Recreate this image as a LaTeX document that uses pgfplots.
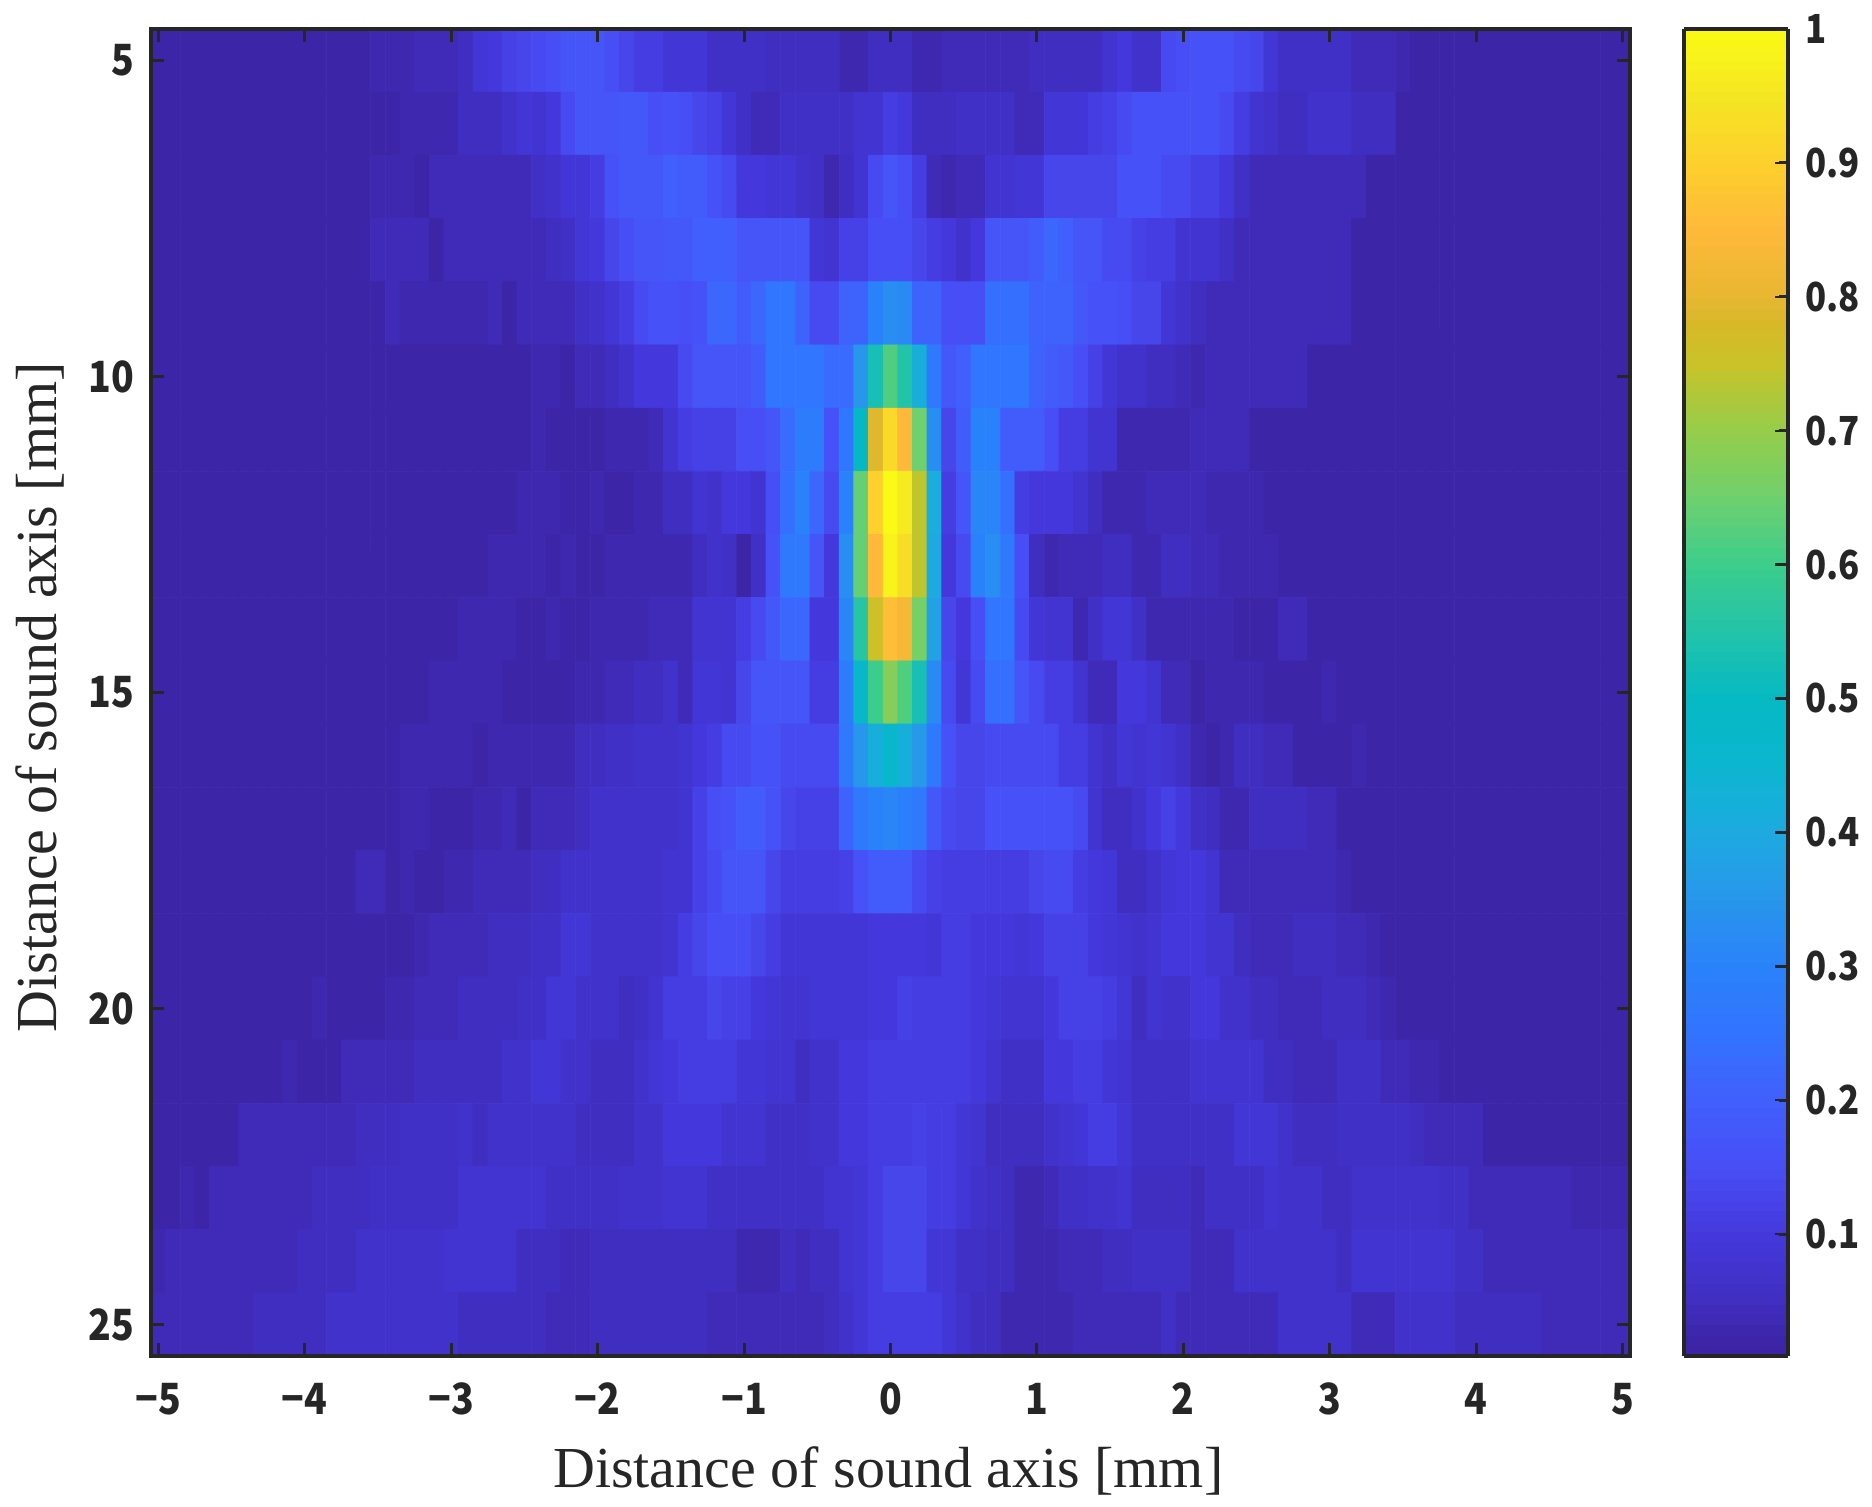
\documentclass[border=0pt]{standalone}
\usepackage{fontspec}
\usepackage{pgfplots}
\pgfplotsset{compat=1.18}
\setmainfont{Liberation Serif}
\newfontfamily\tickfont[FakeStretch=0.87]{Noto Sans CJK JP}
\definecolor{axc}{RGB}{38,38,38}
\begin{document}
\begin{tikzpicture}
\path[use as bounding box] (0pt,0pt) rectangle (936pt,753pt);
\begin{axis}[
  at={(75.5pt,75pt)}, anchor=south west,
  scale only axis, width=739.5pt, height=663.5pt,
  xmin=-5.05, xmax=5.05, ymin=4.5, ymax=25.5, y dir=reverse,
  axis on top, axis line style={axc,line width=1.7pt},
  tick style={axc,line width=1.5pt},
  tick align=inside, major tick length=6.5pt,
  xtick={-5,-4,-3,-2,-1,0,1,2,3,4,5},
  xticklabels={−5,−4,−3,−2,−1,0,1,2,3,4,5},
  ytick={5,10,15,20,25}, yticklabels={5,10,15,20,25},
  ticklabel style={font=\tickfont\bfseries\fontsize{21.5}{22}\selectfont, text=axc},
  xticklabel style={yshift=-10pt},
  yticklabel style={xshift=-5pt},
  xlabel={Distance of sound axis [mm]}, ylabel={Distance of sound axis [mm]},
  label style={font=\fontsize{29}{29}\selectfont, text=axc},
  xlabel style={at={(axis description cs:0.4985,-0.0865)},anchor=center},
  ylabel style={at={(axis description cs:-0.075,0.4965)},anchor=center},
  point meta min=0.009, point meta max=1,
  colormap={prl}{rgb255(1pt)=(60,35,165); rgb255(2pt)=(60,37,165); rgb255(5pt)=(64,46,192); rgb255(10pt)=(68,56,220); rgb255(15pt)=(72,78,245); rgb255(20pt)=(65,95,252); rgb255(25pt)=(50,115,255); rgb255(30pt)=(42,130,250); rgb255(35pt)=(40,150,235); rgb255(40pt)=(30,170,225); rgb255(45pt)=(12,182,208); rgb255(50pt)=(5,185,195); rgb255(55pt)=(35,195,170); rgb255(60pt)=(60,205,140); rgb255(65pt)=(110,208,110); rgb255(70pt)=(150,205,75); rgb255(75pt)=(200,195,40); rgb255(78pt)=(215,185,40); rgb255(80pt)=(232,183,50); rgb255(85pt)=(254,185,58); rgb255(90pt)=(253,208,45); rgb255(95pt)=(245,230,35); rgb255(100pt)=(250,251,20)},
  colorbar sampled,
  colorbar style={
    samples=129,
    at={(1.0365,1)}, anchor=north west, width=52pt,
    axis on top,
    axis line style={axc,line width=1.7pt},
    ytick={0.1,0.2,0.3,0.4,0.5,0.6,0.7,0.8,0.9,1},
    yticklabels={0.1,0.2,0.3,0.4,0.5,0.6,0.7,0.8,0.9,1},
    ytick pos=right, yticklabel pos=right,
    yticklabel style={font=\tickfont\bfseries\fontsize{20}{20}\selectfont, text=axc, anchor=west, xshift=5pt},
  },
]
\addplot[matrix plot*, mesh/cols=101, point meta=explicit] table[row sep=\\, header=false,
  x expr={mod(\coordindex,101)*0.1-5}, y expr={floor(\coordindex/101)+5}, meta expr={\thisrowno{0}/100}] {
2\\2\\2\\2\\2\\2\\2\\2\\2\\2\\ 2\\2\\2\\2\\2\\3\\3\\3\\4\\4\\ 4\\5\\9\\10\\12\\13\\14\\15\\17\\17\\ 17\\15\\13\\11\\11\\9\\9\\9\\6\\6\\ 6\\6\\5\\5\\5\\5\\5\\3\\3\\5\\ 5\\ 5\\3\\3\\4\\4\\4\\4\\4\\4\\5\\ 5\\5\\5\\5\\8\\10\\7\\7\\14\\15\\ 16\\16\\16\\14\\13\\9\\6\\6\\6\\6\\ 6\\4\\4\\4\\3\\2\\2\\2\\2\\2\\ 2\\2\\2\\2\\2\\2\\2\\2\\2\\2\\
2\\2\\2\\2\\2\\2\\2\\2\\2\\2\\ 2\\2\\2\\2\\2\\2\\2\\3\\3\\3\\ 3\\5\\5\\5\\7\\9\\8\\10\\14\\17\\ 17\\17\\18\\18\\15\\16\\15\\13\\12\\9\\ 6\\4\\4\\6\\6\\6\\6\\6\\8\\8\\ 11\\ 10\\5\\5\\5\\6\\6\\6\\6\\4\\4\\ 9\\9\\9\\11\\12\\14\\16\\16\\16\\16\\ 16\\16\\14\\11\\8\\7\\5\\5\\7\\7\\ 7\\5\\5\\5\\2\\2\\2\\2\\2\\2\\ 2\\2\\2\\2\\2\\2\\2\\2\\2\\2\\
2\\2\\2\\2\\2\\2\\2\\2\\2\\2\\ 2\\2\\2\\2\\2\\3\\3\\3\\2\\4\\ 4\\4\\4\\4\\4\\4\\6\\7\\9\\9\\ 11\\16\\18\\18\\18\\20\\19\\19\\16\\14\\ 10\\10\\9\\9\\7\\6\\3\\5\\8\\14\\ 17\\ 15\\11\\4\\3\\4\\4\\8\\8\\9\\9\\ 13\\13\\13\\13\\13\\16\\16\\16\\14\\14\\ 12\\12\\10\\6\\4\\4\\4\\4\\4\\4\\ 4\\4\\2\\2\\2\\2\\2\\2\\2\\2\\ 2\\2\\2\\2\\2\\2\\2\\2\\2\\2\\
2\\2\\2\\2\\2\\2\\2\\2\\2\\2\\ 2\\2\\2\\2\\2\\4\\4\\4\\4\\2\\ 4\\4\\4\\4\\4\\4\\4\\5\\6\\9\\ 10\\13\\15\\17\\17\\18\\18\\20\\20\\20\\ 17\\17\\17\\17\\17\\9\\8\\12\\12\\15\\ 15\\ 15\\13\\11\\10\\7\\10\\17\\17\\17\\19\\ 22\\20\\17\\17\\14\\14\\12\\11\\11\\8\\ 8\\8\\6\\4\\4\\4\\4\\4\\4\\4\\ 4\\2\\2\\2\\2\\2\\2\\2\\2\\2\\ 2\\2\\2\\2\\2\\2\\2\\2\\2\\2\\
2\\2\\2\\2\\2\\2\\2\\2\\2\\2\\ 2\\2\\2\\2\\2\\2\\4\\3\\3\\3\\ 3\\3\\3\\4\\2\\4\\4\\4\\4\\6\\ 7\\9\\11\\14\\16\\16\\15\\16\\22\\22\\ 19\\22\\26\\26\\21\\14\\14\\21\\21\\30\\ 33\\ 32\\21\\21\\15\\15\\15\\24\\24\\24\\21\\ 21\\21\\18\\16\\16\\15\\13\\13\\9\\7\\ 5\\4\\4\\4\\4\\4\\4\\4\\4\\4\\ 4\\2\\2\\2\\2\\2\\2\\2\\2\\2\\ 2\\2\\2\\2\\2\\2\\2\\2\\2\\2\\
2\\2\\2\\2\\2\\2\\2\\2\\2\\2\\ 2\\2\\2\\2\\2\\2\\2\\2\\2\\2\\ 2\\2\\2\\2\\2\\2\\3\\3\\2\\4\\ 4\\5\\7\\10\\10\\10\\14\\17\\17\\17\\ 17\\19\\26\\26\\26\\26\\23\\23\\35\\53\\ 62\\ 55\\42\\27\\18\\20\\26\\26\\26\\26\\21\\ 19\\18\\15\\12\\9\\7\\7\\5\\5\\4\\ 3\\4\\4\\4\\4\\4\\4\\4\\2\\2\\ 2\\2\\2\\2\\2\\2\\2\\2\\2\\2\\ 2\\2\\2\\2\\2\\2\\2\\2\\2\\2\\
2\\2\\2\\2\\2\\2\\2\\2\\2\\2\\ 2\\2\\2\\2\\2\\2\\2\\2\\2\\2\\ 2\\2\\2\\2\\2\\2\\3\\2\\2\\2\\ 2\\3\\3\\3\\4\\8\\11\\12\\12\\12\\ 15\\15\\17\\23\\28\\28\\16\\26\\49\\79\\ 92\\ 85\\65\\33\\13\\19\\30\\30\\19\\19\\19\\ 15\\11\\11\\8\\8\\3\\3\\3\\3\\3\\ 4\\4\\4\\4\\2\\2\\2\\2\\2\\2\\ 2\\2\\2\\2\\2\\2\\2\\2\\2\\2\\ 2\\2\\2\\2\\2\\2\\2\\2\\2\\2\\
2\\2\\2\\2\\2\\2\\2\\2\\2\\2\\ 2\\2\\2\\2\\2\\2\\2\\2\\2\\2\\ 2\\2\\2\\2\\2\\3\\3\\3\\2\\2\\ 3\\2\\2\\3\\3\\5\\5\\8\\7\\10\\ 10\\8\\15\\24\\30\\22\\14\\30\\64\\90\\ 100\\ 96\\74\\41\\11\\17\\31\\31\\24\\11\\10\\ 10\\10\\8\\5\\3\\3\\3\\4\\4\\4\\ 4\\3\\3\\3\\3\\2\\2\\2\\2\\2\\ 2\\2\\2\\2\\2\\2\\2\\2\\2\\2\\ 2\\2\\2\\2\\2\\2\\2\\2\\2\\2\\
2\\2\\2\\2\\2\\2\\2\\2\\2\\2\\ 2\\2\\2\\2\\2\\2\\2\\2\\2\\2\\ 2\\2\\2\\3\\3\\3\\3\\2\\3\\2\\ 2\\3\\3\\3\\3\\3\\3\\5\\7\\6\\ 2\\6\\16\\27\\27\\17\\10\\33\\64\\85\\ 98\\ 93\\74\\40\\10\\14\\30\\33\\27\\15\\5\\ 3\\4\\4\\4\\5\\5\\3\\3\\5\\5\\ 4\\4\\3\\3\\3\\3\\2\\2\\2\\2\\ 2\\2\\2\\2\\2\\2\\2\\2\\2\\2\\ 2\\2\\2\\2\\2\\2\\2\\2\\2\\2\\
2\\2\\2\\2\\2\\2\\2\\2\\2\\2\\ 2\\2\\2\\2\\2\\2\\2\\2\\2\\2\\ 2\\3\\3\\3\\3\\2\\2\\3\\2\\2\\ 3\\3\\3\\3\\4\\4\\4\\8\\8\\8\\ 11\\14\\18\\22\\22\\10\\10\\31\\56\\76\\ 86\\ 83\\66\\38\\13\\10\\15\\26\\26\\14\\9\\ 8\\8\\3\\6\\9\\9\\6\\3\\3\\3\\ 3\\3\\3\\2\\2\\2\\4\\4\\2\\2\\ 2\\2\\2\\2\\2\\2\\2\\2\\2\\2\\ 2\\2\\2\\2\\2\\2\\2\\2\\2\\2\\
2\\2\\2\\2\\2\\2\\2\\2\\2\\2\\ 2\\2\\2\\2\\2\\2\\2\\2\\2\\3\\ 3\\3\\3\\3\\2\\2\\2\\2\\2\\3\\ 3\\4\\4\\5\\5\\7\\4\\9\\9\\8\\ 13\\17\\17\\17\\17\\11\\11\\28\\47\\60\\ 68\\ 62\\53\\32\\14\\9\\14\\24\\24\\17\\14\\ 11\\11\\8\\4\\4\\10\\10\\8\\4\\4\\ 2\\3\\3\\3\\3\\2\\2\\2\\2\\3\\ 2\\2\\2\\2\\2\\2\\2\\2\\2\\2\\ 2\\2\\2\\2\\2\\2\\2\\2\\2\\2\\
2\\2\\2\\2\\2\\2\\2\\2\\2\\2\\ 2\\2\\2\\2\\2\\2\\2\\3\\3\\3\\ 3\\3\\2\\3\\3\\3\\3\\3\\3\\5\\ 5\\6\\6\\7\\7\\7\\8\\10\\11\\14\\ 14\\16\\16\\14\\14\\14\\14\\27\\35\\42\\ 47\\ 42\\36\\27\\16\\13\\13\\14\\14\\14\\14\\ 14\\11\\11\\8\\6\\9\\8\\9\\8\\6\\ 3\\2\\3\\5\\5\\4\\4\\2\\2\\2\\ 2\\3\\2\\2\\2\\2\\2\\2\\2\\2\\ 2\\2\\2\\2\\2\\2\\2\\2\\2\\2\\
2\\2\\2\\2\\2\\2\\2\\2\\2\\2\\ 2\\2\\2\\2\\2\\2\\2\\3\\3\\2\\ 2\\2\\3\\3\\4\\2\\4\\4\\4\\5\\ 7\\7\\7\\7\\7\\7\\8\\12\\15\\16\\ 19\\19\\16\\13\\12\\12\\12\\21\\27\\30\\ 31\\ 29\\27\\18\\14\\13\\13\\16\\16\\16\\16\\ 16\\16\\14\\8\\5\\5\\7\\10\\12\\10\\ 6\\5\\3\\3\\5\\5\\5\\5\\4\\4\\ 2\\2\\2\\2\\2\\2\\2\\2\\2\\2\\ 2\\2\\2\\2\\2\\2\\2\\2\\2\\2\\
2\\2\\2\\2\\2\\2\\2\\2\\2\\2\\ 2\\2\\2\\2\\4\\4\\2\\3\\2\\2\\ 3\\3\\4\\4\\4\\4\\5\\5\\7\\7\\ 7\\7\\7\\7\\7\\8\\8\\12\\14\\17\\ 17\\17\\13\\11\\11\\11\\11\\12\\16\\19\\ 19\\ 19\\14\\12\\11\\11\\11\\11\\11\\11\\13\\ 14\\14\\11\\10\\9\\5\\5\\7\\9\\10\\ 10\\8\\4\\4\\4\\4\\4\\4\\4\\4\\ 3\\2\\2\\2\\2\\2\\2\\2\\2\\2\\ 2\\2\\2\\2\\2\\2\\2\\2\\2\\2\\
2\\2\\2\\2\\2\\2\\2\\2\\2\\2\\ 2\\2\\2\\2\\2\\2\\2\\2\\3\\4\\ 4\\4\\4\\5\\5\\5\\6\\6\\9\\9\\ 7\\7\\7\\7\\7\\8\\11\\13\\15\\15\\ 15\\13\\11\\9\\9\\9\\9\\9\\9\\10\\ 10\\ 10\\10\\9\\11\\11\\10\\10\\10\\9\\10\\ 12\\12\\12\\10\\9\\8\\7\\8\\10\\10\\ 10\\8\\8\\5\\4\\4\\4\\5\\5\\5\\ 4\\4\\3\\2\\2\\2\\2\\2\\2\\2\\ 2\\2\\2\\2\\2\\2\\2\\2\\2\\2\\
2\\2\\2\\2\\2\\2\\2\\2\\2\\2\\ 2\\3\\2\\2\\2\\2\\3\\3\\4\\4\\ 4\\5\\5\\5\\5\\6\\6\\9\\9\\7\\ 7\\7\\5\\6\\8\\11\\11\\11\\13\\12\\ 12\\10\\9\\8\\8\\9\\9\\9\\9\\10\\ 10\\ 12\\11\\11\\11\\11\\10\\9\\8\\8\\8\\ 10\\12\\12\\12\\11\\9\\5\\8\\7\\7\\ 10\\10\\7\\7\\5\\5\\4\\4\\4\\5\\ 5\\5\\4\\3\\2\\2\\2\\2\\2\\2\\ 2\\2\\2\\2\\2\\2\\2\\2\\2\\2\\
2\\2\\2\\2\\2\\2\\2\\2\\2\\3\\ 2\\2\\2\\4\\4\\4\\4\\4\\5\\5\\ 5\\5\\5\\5\\7\\7\\9\\9\\7\\7\\ 5\\5\\5\\7\\9\\10\\11\\11\\11\\11\\ 9\\9\\8\\8\\5\\7\\7\\10\\10\\11\\ 11\\ 11\\11\\11\\11\\11\\10\\8\\6\\6\\6\\ 10\\10\\11\\11\\9\\8\\6\\6\\6\\6\\ 8\\8\\8\\8\\8\\5\\5\\4\\4\\4\\ 6\\6\\6\\4\\4\\3\\3\\2\\2\\2\\ 2\\2\\2\\2\\2\\2\\2\\2\\2\\2\\
2\\2\\2\\2\\2\\2\\4\\4\\4\\4\\ 4\\4\\4\\4\\5\\5\\5\\6\\6\\6\\ 6\\7\\5\\7\\7\\7\\7\\7\\7\\5\\ 5\\5\\5\\7\\7\\10\\10\\10\\10\\8\\ 8\\8\\6\\6\\6\\7\\7\\10\\10\\11\\ 11\\ 11\\12\\11\\11\\9\\8\\5\\5\\5\\5\\ 7\\8\\9\\11\\11\\9\\6\\6\\6\\6\\ 6\\6\\6\\9\\9\\9\\7\\5\\5\\5\\ 6\\6\\6\\6\\6\\5\\4\\4\\4\\4\\ 2\\2\\2\\2\\2\\2\\2\\2\\2\\2\\
2\\2\\3\\2\\4\\4\\4\\4\\4\\4\\ 4\\5\\5\\5\\5\\6\\6\\6\\6\\6\\ 6\\8\\8\\8\\8\\8\\8\\6\\6\\6\\ 6\\6\\7\\7\\7\\8\\8\\8\\6\\6\\ 6\\6\\6\\6\\6\\6\\8\\8\\9\\11\\ 13\\ 13\\13\\11\\11\\9\\7\\6\\5\\3\\3\\ 4\\6\\6\\7\\7\\8\\5\\5\\5\\5\\ 4\\6\\6\\6\\6\\8\\7\\7\\7\\5\\ 5\\7\\7\\7\\7\\7\\7\\6\\6\\4\\ 4\\4\\4\\4\\4\\4\\3\\3\\3\\3\\
3\\4\\4\\4\\4\\4\\4\\4\\4\\4\\ 5\\5\\5\\5\\7\\7\\7\\7\\7\\7\\ 8\\8\\8\\8\\8\\5\\5\\5\\4\\4\\ 5\\5\\5\\5\\5\\5\\5\\5\\5\\5\\ 3\\3\\3\\5\\4\\5\\5\\8\\9\\11\\ 13\\ 13\\13\\9\\9\\6\\6\\5\\5\\3\\3\\ 3\\4\\4\\4\\5\\5\\6\\6\\6\\6\\ 4\\4\\4\\7\\7\\7\\7\\7\\7\\7\\ 5\\8\\8\\8\\8\\8\\8\\8\\6\\6\\ 4\\4\\4\\4\\4\\4\\4\\4\\4\\4\\
4\\4\\4\\4\\4\\4\\4\\5\\5\\5\\ 5\\5\\7\\7\\7\\7\\7\\7\\7\\7\\ 7\\5\\5\\5\\5\\5\\5\\4\\4\\4\\ 5\\5\\5\\5\\5\\5\\5\\5\\4\\4\\ 4\\4\\4\\4\\4\\4\\5\\7\\9\\11\\ 11\\ 11\\11\\11\\9\\7\\5\\5\\3\\3\\3\\ 3\\3\\4\\4\\4\\4\\4\\4\\6\\4\\ 4\\4\\4\\4\\4\\4\\7\\7\\7\\7\\ 7\\4\\4\\4\\7\\7\\7\\7\\5\\5\\ 5\\5\\5\\5\\4\\4\\4\\4\\4\\4\\
};
\end{axis}
\foreach \v in {0.1,0.2,0.3,0.4,0.5,0.6,0.7,0.8,0.9}
  {\draw[axc,line width=1.2pt] (894pt,{(75+663.5*(\v-0.009)/0.991)*1pt}) -- (887.5pt,{(75+663.5*(\v-0.009)/0.991)*1pt});}
\end{tikzpicture}
\end{document}
